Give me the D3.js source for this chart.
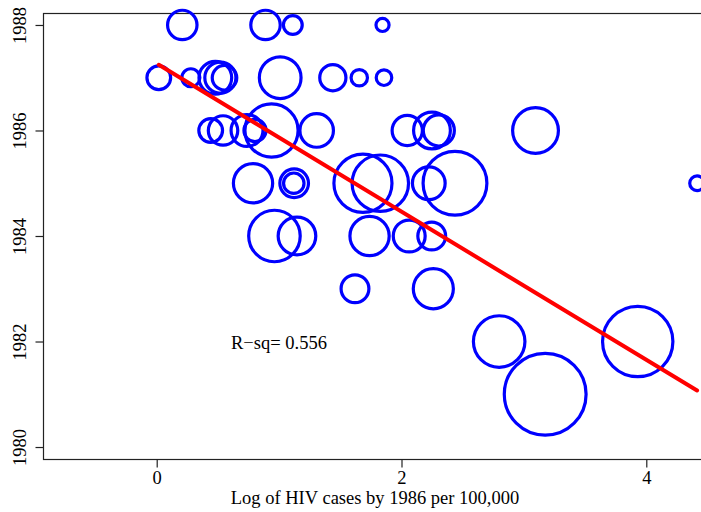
<!DOCTYPE html>
<html>
<head>
<meta charset="utf-8">
<script src="https://cdn.jsdelivr.net/npm/d3@7"></script>
<style>
  html, body { margin: 0; padding: 0; background: #fff; overflow: hidden; }
  svg { display: block; }
  text { font-family: "Liberation Serif", "Times New Roman", serif; fill: #000; }
</style>
</head>
<body>
<svg id="chart" width="701" height="512"></svg>
<script>
// Log HIV cases by 1986 (per 100,000) against year, circle size = relative weight
const logCases = [
  0.209, 0.889, 1.112, 1.845,
  0.017, 0.279, 0.479, 0.520, 0.554, 1.009, 1.439, 1.655, 1.857,
  0.441, 0.542, 0.738, 0.803, 0.938, 1.307, 2.047, 2.249, 2.305, 3.095,
  0.787, 1.123, 1.120, 1.685, 1.827, 2.223, 2.437, 4.415,
  0.962, 1.146, 1.739, 2.063, 2.247,
  1.620, 2.260,
  2.798, 3.930,
  3.174
];
const years = [
  1988, 1988, 1988, 1988,
  1987, 1987, 1987, 1987, 1987, 1987, 1987, 1987, 1987,
  1986, 1986, 1986, 1986, 1986, 1986, 1986, 1986, 1986, 1986,
  1985, 1985, 1985, 1985, 1985, 1985, 1985, 1985,
  1984, 1984, 1984, 1984, 1984,
  1983, 1983,
  1982, 1982,
  1981
];
const weights = [
  36, 36, 23, 16,
  29, 22, 40, 38, 30, 51, 32, 20, 19,
  29, 36, 39, 27, 65, 41, 37, 45, 38, 56,
  48, 35, 25, 71, 69, 40, 78, 18,
  63, 46, 48, 39, 34,
  34, 49,
  63, 86,
  100
];
const xTicks = [0, 2, 4];
const yTicks = [1980, 1982, 1984, 1986, 1988];

// fitted line: year = intercept + slope * logCases
const fitIntercept = 1987.27;
const fitSlope = -1.404;
const rsqLabel = "R\u2212sq= 0.556";
const xTitle = "Log of HIV cases by 1986 per 100,000";

const svg = d3.select("#chart");
const plot = { left: 43, top: 13, right: 707, bottom: 459 };

const x = d3.scaleLinear().domain([-0.929, 4.496]).range([plot.left, plot.right]);
const y = d3.scaleLinear().domain([1979.773, 1988.227]).range([plot.bottom, plot.top]);
const r = d3.scaleLinear().domain([0, 100]).range([0, 40.9]);

const data = logCases.map((v, i) => ({ x: v, y: years[i], w: weights[i] }));

// frame
svg.append("rect")
  .attr("x", plot.left + 0.5).attr("y", plot.top + 0.5)
  .attr("width", plot.right - plot.left).attr("height", plot.bottom - plot.top)
  .attr("fill", "none").attr("stroke", "#222").attr("stroke-width", 1.2);

// x axis
const xAxis = svg.append("g").attr("transform", `translate(0,${plot.bottom + 0.5})`)
  .call(d3.axisBottom(x).tickValues(xTicks).tickSize(8).tickSizeOuter(0).tickFormat(d3.format("d")));
xAxis.select(".domain").remove();
xAxis.selectAll(".tick line").attr("stroke", "#222").attr("stroke-width", 1.2);
xAxis.selectAll(".tick text")
  .attr("font-size", 18.5).attr("font-family", "Liberation Serif, serif")
  .attr("y", 24).attr("dy", 0).attr("fill", "#000");

// y axis with rotated labels
const yAxis = svg.append("g").attr("transform", `translate(${plot.left + 0.5},0)`)
  .call(d3.axisLeft(y).tickValues(yTicks).tickSize(8).tickSizeOuter(0).tickFormat(d3.format("d")));
yAxis.select(".domain").remove();
yAxis.selectAll(".tick line").attr("stroke", "#222").attr("stroke-width", 1.2);
yAxis.selectAll(".tick text")
  .attr("font-size", 18.5).attr("font-family", "Liberation Serif, serif")
  .attr("x", 0).attr("y", 0).attr("dy", 0).attr("fill", "#000")
  .attr("text-anchor", "middle")
  .attr("transform", "translate(-17.5,0) rotate(-90)");

// bubbles
svg.append("g").selectAll("circle")
  .data(data)
  .join("circle")
  .attr("cx", d => x(d.x))
  .attr("cy", d => y(d.y))
  .attr("r", d => r(d.w))
  .attr("fill", "none")
  .attr("stroke", "#0000ff")
  .attr("stroke-width", 3.2);

// regression line across the observed range
const xExt = d3.extent(logCases);
svg.append("line")
  .attr("x1", x(xExt[0])).attr("y1", y(fitIntercept + fitSlope * xExt[0]))
  .attr("x2", x(xExt[1])).attr("y2", y(fitIntercept + fitSlope * xExt[1]))
  .attr("stroke", "#ff0000").attr("stroke-width", 4).attr("stroke-linecap", "round");

// annotation
svg.append("text")
  .attr("x", 231).attr("y", 348.5)
  .attr("font-size", 18.5)
  .text(rsqLabel);

// axis title
svg.append("text")
  .attr("x", (plot.left + plot.right) / 2).attr("y", 504)
  .attr("text-anchor", "middle")
  .attr("font-size", 18.5)
  .text(xTitle);
</script>
</body>
</html>
